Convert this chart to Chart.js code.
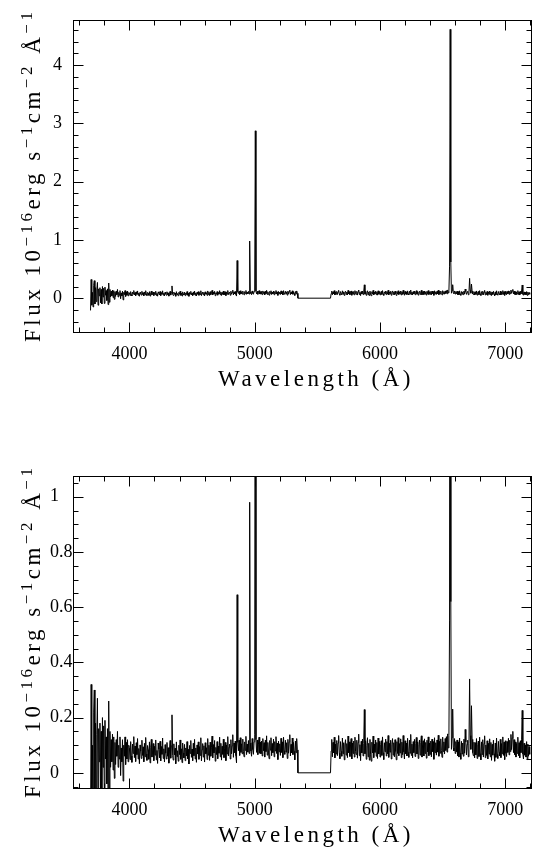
<!DOCTYPE html>
<html>
<head>
<meta charset="utf-8">
<title>Spectrum</title>
<script src="https://cdn.jsdelivr.net/npm/chart.js@4.4.1/dist/chart.umd.min.js"></script>
<style>
  body { margin: 0; background: #fff; }
  #wrap { position: relative; width: 540px; height: 848px; }
  canvas { position: absolute; left: 0; }
</style>
</head>
<body>
<div id="wrap">
  <canvas id="fullChart" width="540" height="424" style="top:0"></canvas>
  <canvas id="zoomChart" width="540" height="424" style="top:424px"></canvas>
</div>
<script>
// Sampling step of the spectrum, in Angstrom
const STEP = 5;

// Flux (10^-16 erg/s/cm2/A), one array per stretch of wavelength
// 3690 - 3995
const flux3690 = [
  -0.21, 0.32, -0.12, 0.10, -0.15, 0.22, 0.30, -0.10, 0.18, -0.06,
  0.14, 0.27, -0.12, 0.16, 0.04, 0.18, -0.08, 0.15, -0.10, 0.20,
  0.02, 0.17, -0.09, 0.19, 0.05, 0.13, -0.04, 0.16, -0.11, 0.26,
  -0.07, 0.15, 0.02, 0.12, 0.04, 0.14, 0.01, 0.13, -0.02, 0.11,
  0.03, 0.12, 0.06, 0.15, 0.02, 0.10, 0.05, 0.13, -0.01, 0.09,
  0.04, 0.12, -0.03, 0.10, 0.06, 0.13, 0.03, 0.11, 0.05, 0.12,
  0.04, 0.10
];
// 4000 - 4495
const flux4000 = [
  .092, .048, .113, .061, .038, .104, .070, .131, .055, .097,
  .041, .109, .066, .124, .050, .088, .033, .101, .079, .052,
  .118, .063, .094, .040, .107, .058, .128, .069, .045, .099,
  .084, .049, .112, .036, .093, .121, .057, .075, .106, .044,
  .096, .064, .119, .047, .081, .034, .108, .086, .054, .114,
  .043, .095, .067, .126, .052, .087, .039, .102, .071, .050,
  .110, .060, .091, .035, .083, .117, .053, .098, .210, .062,
  .046, .105, .065, .089, .033, .112, .059, .080, .042, .100,
  .066, .119, .049, .087, .037, .108, .072, .054, .103, .044,
  .090, .061, .113, .051, .085, .032, .099, .070, .117, .056
];
// 4500 - 4995
const flux4500 = [
  .086, .044, .107, .062, .121, .050, .090, .038, .101, .068,
  .112, .049, .095, .063, .127, .043, .084, .106, .057, .098,
  .039, .109, .069, .091, .048, .124, .064, .100, .045, .111,
  .060, .093, .133, .054, .102, .072, .117, .042, .092, .066,
  .113, .051, .097, .071, .129, .058, .107, .046, .096, .067,
  .122, .055, .089, .110, .044, .101, .068, .131, .061, .093,
  .104, .050, .120, .069, .098, .138, .056, .108, .073, .115,
  .062, .036, .645, .110, .080, .118, .063, .127, .074, .105,
  .069, .122, .078, .058, .112, .081, .132, .066, .104, .075,
  .117, .070, .980, .109, .079, .060, .124, .084, .067, .112
];
// 5000 - 5340
const flux5000 = [
  .140, 2.87, .120, .074, .119, .066, .104, .129, .071, .111,
  .069, .115, .061, .124, .080, .109, .057, .118, .077, .134,
  .064, .110, .075, .051, .117, .082, .127, .062, .106, .073,
  .122, .058, .113, .079, .131, .070, .108, .048, .115, .076,
  .105, .063, .125, .074, .112, .055, .129, .080, .067, .118,
  .075, .109, .052, .121, .071, .112, .138, .061, .103, .072,
  .126, .066, .110, .078, .047, .115, .073, .124, .083
];
// chip gap, flat at zero
const gapWave = [5345, 5605];
const gapFlux = [0, 0];
// 5610 - 6105
const flux5610 = [
  .079, .121, .058, .110, .072, .129, .054, .104, .068, .117,
  .062, .108, .135, .071, .051, .113, .078, .060, .126, .069,
  .109, .047, .101, .120, .064, .106, .055, .133, .073, .112,
  .059, .104, .124, .050, .108, .070, .115, .057, .129, .077,
  .066, .118, .053, .110, .140, .062, .102, .044, .114, .072,
  .122, .061, .106, .229, .069, .116, .049, .100, .127, .058,
  .107, .046, .121, .065, .042, .111, .072, .133, .055, .104,
  .074, .119, .060, .110, .052, .126, .068, .114, .057, .102,
  .116, .063, .130, .073, .048, .109, .076, .122, .061, .113,
  .069, .135, .056, .107, .075, .118, .050, .103, .124, .064
];
// 6110 - 6605
const flux6110 = [
  .109, .058, .120, .077, .047, .113, .070, .127, .062, .106,
  .072, .123, .055, .111, .066, .135, .076, .050, .116, .069,
  .108, .061, .125, .074, .056, .118, .071, .139, .063, .104,
  .054, .113, .073, .121, .059, .107, .128, .068, .112, .052,
  .103, .119, .064, .109, .134, .057, .101, .116, .061, .123,
  .070, .110, .053, .118, .076, .130, .062, .108, .067, .115,
  .058, .122, .077, .113, .049, .127, .073, .109, .064, .119,
  .075, .136, .060, .114, .071, .123, .080, .056, .129, .077,
  .112, .068, .124, .081, .131, .075, .141, .090, .135, .550,
  4.61, .620, .085, .128, .231, .091, .079, .124, .070, .113
];
// 6610 - 7195
const flux6610 = [
  .076, .119, .062, .112, .057, .126, .071, .049, .114, .068,
  .108, .060, .122, .071, .157, .112, .065, .103, .118, .058,
  .106, .340, .135, .085, .243, .121, .073, .062, .111, .054,
  .109, .065, .124, .052, .103, .115, .059, .129, .070, .047,
  .112, .066, .120, .057, .106, .134, .055, .101, .063, .116,
  .050, .107, .068, .123, .058, .110, .045, .103, .064, .118,
  .069, .042, .108, .056, .126, .067, .052, .114, .074, .061,
  .121, .055, .106, .069, .130, .063, .111, .048, .116, .071,
  .059, .113, .074, .125, .065, .118, .077, .139, .084, .126,
  .150, .073, .120, .066, .112, .057, .106, .070, .129, .062,
  .109, .054, .116, .073, .122, .226, .068, .050, .107, .064,
  .101, .057, .113, .048, .104, .060, .095, .067
];

// Axis ticks
const xTicks = [4000, 5000, 6000, 7000];
const yTicksFull = [0, 1, 2, 3, 4];
const yTicksZoom = [0, 0.2, 0.4, 0.6, 0.8, 1];

const xTitle = 'Wavelength (Å)';
const yTitleParts = [
  ['Flux 10', false], ['\u221216', true], ['erg s', false], ['\u22121', true],
  ['cm', false], ['\u22122', true], [' Å', false], ['\u22121', true]
];

const FONT = '"Liberation Serif"';

function segment(start, values) {
  return values.map(function(v, i) { return { x: start + i * STEP, y: v }; });
}

const spectrum = [].concat(
  segment(3690, flux3690),
  segment(4000, flux4000),
  segment(4500, flux4500),
  segment(5000, flux5000),
  gapWave.map(function(w, i) { return { x: w, y: gapFlux[i] }; }),
  segment(5610, flux5610),
  segment(6110, flux6110),
  segment(6610, flux6610)
);

// Box, inward ticks on all four sides, and the axis titles
const framePlugin = {
  id: 'frame',
  afterDraw(chart, args, opts) {
    const ctx = chart.ctx;
    const a = chart.chartArea;
    const xs = chart.scales.x;
    const ys = chart.scales.y;
    ctx.save();
    ctx.strokeStyle = '#000';
    ctx.lineWidth = 1;
    const L = Math.round(a.left) + 0.5, R = Math.round(a.right) + 0.5;
    const T = Math.round(a.top) + 0.5, B = Math.round(a.bottom) + 0.5;
    ctx.strokeRect(L, T, R - L, B - T);
    ctx.beginPath();
    for (let k = Math.ceil(xs.min / opts.xMinor); k * opts.xMinor <= xs.max; k++) {
      const v = k * opts.xMinor;
      const px = Math.round(xs.getPixelForValue(v)) + 0.5;
      const len = v % opts.xMajor === 0 ? 10 : 5;
      ctx.moveTo(px, B); ctx.lineTo(px, B - len);
      ctx.moveTo(px, T); ctx.lineTo(px, T + len);
    }
    const ratio = Math.round(opts.yMajor / opts.yMinor);
    for (let k = Math.ceil(ys.min / opts.yMinor - 1e-9); k * opts.yMinor <= ys.max + 1e-9; k++) {
      const py = Math.round(ys.getPixelForValue(k * opts.yMinor)) + 0.5;
      const len = k % ratio === 0 ? 10 : 5;
      ctx.moveTo(L, py); ctx.lineTo(L + len, py);
      ctx.moveTo(R, py); ctx.lineTo(R - len, py);
    }
    ctx.stroke();

    ctx.fillStyle = '#000';
    ctx.letterSpacing = '3.5px';
    ctx.font = '23px ' + FONT;
    ctx.textAlign = 'center';
    ctx.textBaseline = 'alphabetic';
    ctx.fillText(xTitle, (a.left + a.right) / 2 + 14, a.bottom + 54);

    ctx.translate(40, a.bottom + 10);
    ctx.rotate(-Math.PI / 2);
    ctx.textAlign = 'left';
    let pos = 0;
    yTitleParts.forEach(function(p) {
      ctx.font = (p[1] ? '17px ' : '23px ') + FONT;
      ctx.fillText(p[0], pos, p[1] ? -8 : 0);
      pos += ctx.measureText(p[0]).width;
    });
    ctx.letterSpacing = '0px';
    ctx.restore();
  }
};

function makeChart(id, cfg) {
  return new Chart(document.getElementById(id), {
    type: 'line',
    data: {
      datasets: [{
        data: spectrum,
        borderColor: '#000',
        borderWidth: 1,
        pointRadius: 0,
        fill: false,
        tension: 0
      }]
    },
    options: {
      responsive: false,
      animation: false,
      events: [],
      layout: { padding: { left: cfg.padLeft, top: cfg.padTop, right: 9, bottom: 0 } },
      plugins: {
        legend: { display: false },
        tooltip: { enabled: false },
        frame: { xMinor: 200, xMajor: 1000, yMinor: cfg.yMinor, yMajor: cfg.yMajor }
      },
      scales: {
        x: {
          type: 'linear',
          min: 3550,
          max: 7205,
          grid: { display: false },
          border: { display: false },
          afterBuildTicks: function(s) { s.ticks = xTicks.map(function(v) { return { value: v }; }); },
          afterFit: function(s) { s.height = cfg.xHeight; },
          ticks: {
            autoSkip: false,
            maxRotation: 0,
            padding: 3,
            color: '#000',
            font: { family: 'Liberation Serif', size: 18 },
            callback: function(v) { return String(v); }
          }
        },
        y: {
          type: 'linear',
          min: cfg.yMin,
          max: cfg.yMax,
          grid: { display: false },
          border: { display: false },
          afterBuildTicks: function(s) { s.ticks = cfg.yTicks.map(function(v) { return { value: v }; }); },
          afterFit: function(s) { s.width = cfg.yWidth; },
          ticks: {
            autoSkip: false,
            crossAlign: 'far',
            color: '#000',
            font: { family: 'Liberation Serif', size: 18 },
            callback: function(v) { return String(v); }
          }
        }
      }
    },
    plugins: [framePlugin]
  });
}

makeChart('fullChart', {
  yMin: -0.58, yMax: 4.77, yTicks: yTicksFull, yMinor: 0.2, yMajor: 1,
  padLeft: 53, padTop: 20, yWidth: 20, xHeight: 92
});

makeChart('zoomChart', {
  yMin: -0.055, yMax: 1.075, yTicks: yTicksZoom, yMinor: 0.05, yMajor: 0.2,
  padLeft: 50, padTop: 52, yWidth: 23, xHeight: 60
});
</script>
</body>
</html>
